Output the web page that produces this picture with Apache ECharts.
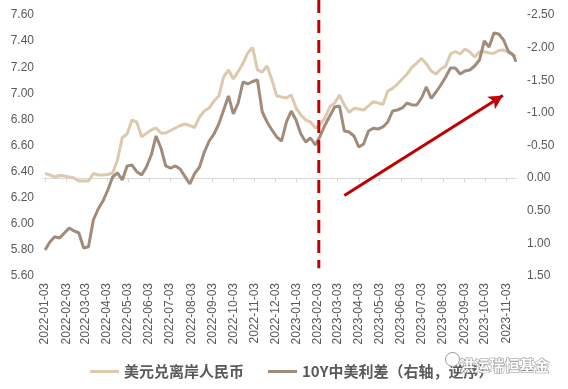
<!DOCTYPE html>
<html>
<head>
<meta charset="utf-8">
<script src="https://cdn.jsdelivr.net/npm/echarts@6/dist/echarts.min.js"></script>
<style>html,body{margin:0;padding:0;background:#fff;}#c{width:568px;height:389px;}</style>
</head>
<body>
<div id="c"></div>
<script>
// Weekly samples (Mondays)
const dates = [
'2022-01-03','2022-01-10','2022-01-17','2022-01-24','2022-01-31','2022-02-07','2022-02-14','2022-02-21','2022-02-28',
'2022-03-07','2022-03-14','2022-03-21','2022-03-28','2022-04-04','2022-04-11','2022-04-18','2022-04-25',
'2022-05-02','2022-05-09','2022-05-16','2022-05-23','2022-05-30','2022-06-06','2022-06-13','2022-06-20','2022-06-27',
'2022-07-04','2022-07-11','2022-07-18','2022-07-25','2022-08-01','2022-08-08','2022-08-15','2022-08-22','2022-08-29',
'2022-09-05','2022-09-12','2022-09-19','2022-09-26','2022-10-03','2022-10-10','2022-10-17','2022-10-24','2022-10-31',
'2022-11-07','2022-11-14','2022-11-21','2022-11-28','2022-12-05','2022-12-12','2022-12-19','2022-12-26',
'2023-01-02','2023-01-09','2023-01-16','2023-01-23','2023-01-30','2023-02-06','2023-02-13','2023-02-20','2023-02-27',
'2023-03-06','2023-03-13','2023-03-20','2023-03-27','2023-04-03','2023-04-10','2023-04-17','2023-04-24',
'2023-05-01','2023-05-08','2023-05-15','2023-05-22','2023-05-29','2023-06-05','2023-06-12','2023-06-19','2023-06-26',
'2023-07-03','2023-07-10','2023-07-17','2023-07-24','2023-07-31','2023-08-07','2023-08-14','2023-08-21','2023-08-28',
'2023-09-04','2023-09-11','2023-09-18','2023-09-25','2023-10-02','2023-10-09','2023-10-16','2023-10-23','2023-10-30',
'2023-11-06','2023-11-13','2023-11-17'
];
const cnh = [
6.387,6.374,6.359,6.370,6.366,6.359,6.351,6.328,6.328,
6.328,6.385,6.374,6.374,6.378,6.389,6.489,6.661,
6.688,6.795,6.780,6.667,6.693,6.719,6.734,6.696,6.696,
6.715,6.734,6.753,6.765,6.753,6.738,6.818,6.864,6.887,
6.941,6.979,7.125,7.179,7.110,7.166,7.230,7.309,7.351,
7.179,7.163,7.209,7.102,6.979,6.972,6.964,6.987,
6.887,6.834,6.795,6.780,6.734,6.761,6.811,6.897,6.926,
6.987,6.910,6.853,6.885,6.880,6.872,6.903,6.936,
6.926,6.914,7.018,7.038,7.071,7.110,7.148,7.198,7.232,
7.267,7.225,7.171,7.148,7.186,7.209,7.301,7.320,7.301,
7.339,7.316,7.278,7.316,7.319,7.309,7.307,7.328,7.332,
7.313,7.293,7.278
];
const spread = [
1.102,0.979,0.898,0.918,0.841,0.764,0.810,0.841,1.071,
1.051,0.642,0.473,0.351,0.182,-0.017,-0.079,0.029,
-0.186,-0.201,-0.098,-0.048,-0.171,-0.354,-0.646,-0.462,-0.186,
-0.155,-0.186,-0.140,-0.022,0.090,-0.074,-0.171,-0.400,-0.569,
-0.676,-0.830,-1.044,-1.259,-0.983,-1.151,-1.473,-1.443,-1.481,
-1.504,-1.013,-0.860,-0.738,-0.630,-0.569,-0.860,-1.029,
-0.891,-0.676,-0.554,-0.615,-0.508,-0.646,-0.814,-0.952,-1.090,
-1.105,-0.722,-0.707,-0.646,-0.477,-0.523,-0.722,-0.764,
-0.753,-0.784,-0.860,-1.029,-1.044,-1.075,-1.151,-1.121,-1.121,
-1.228,-1.397,-1.223,-1.320,-1.427,-1.550,-1.688,-1.688,-1.596,
-1.642,-1.657,-1.718,-1.810,-2.102,-2.010,-2.224,-2.209,-2.117,
-1.941,-1.887,-1.784
];
const tickDates = [
'2022-01-03','2022-02-03','2022-03-03','2022-04-03','2022-05-03','2022-06-03','2022-07-03','2022-08-03','2022-09-03',
'2022-10-03','2022-11-03','2022-12-03','2023-01-03','2023-02-03','2023-03-03','2023-04-03','2023-05-03','2023-06-03',
'2023-07-03','2023-08-03','2023-09-03','2023-10-03','2023-11-03'
];
const seriesNames = ['美元兑离岸人民币','10Y中美利差（右轴，逆序）'];
// annotation anchors (data coordinates)
const dividerDate = '2023-02-04';
const dividerRange = [7.715, 5.66];   // left-axis values for the dashed line ends
const arrowFrom = ['2023-03-13', 0.265];
const arrowTo = ['2023-10-29', -1.265];

function ts(s){ return new Date(s + 'T00:00:00').getTime(); }
function pad(n){ return (n < 10 ? '0' : '') + n; }
function fmtDate(v){ const d = new Date(v); return d.getFullYear() + '-' + pad(d.getMonth()+1) + '-' + pad(d.getDate()); }

const tickVals = tickDates.map(ts);
const cnhData = dates.map((d,i)=>[ts(d), cnh[i]]);
const spreadData = dates.map((d,i)=>[ts(d), spread[i]]);

const RED = '#C00000';
const labelColor = '#595959';
const chart = echarts.init(document.getElementById('c'), null, {renderer:'canvas'});
chart.setOption({
  animation:false,
  backgroundColor:'#fff',
  textStyle:{fontFamily:'Liberation Sans, Arial, sans-serif'},
  grid:{left:43, right:52, top:15, bottom:113, containLabel:false},
  legend:{
    data:seriesNames,
    left:85, top:359,
    icon:'rect', itemWidth:29, itemHeight:3, itemGap:24,
    textStyle:{fontSize:15, fontWeight:'bold', color:labelColor, fontFamily:'Noto Sans CJK SC, sans-serif'}
  },
  xAxis:{
    type:'value',
    min:ts('2021-12-31'), max:ts('2023-11-17'),
    axisLine:{show:true, lineStyle:{color:'#D9D9D9', width:1}},
    axisTick:{show:true, customValues:tickVals, length:4, lineStyle:{color:'#D9D9D9'}},
    axisLabel:{customValues:tickVals, rotate:90, fontSize:12, color:labelColor, margin:7, formatter:(v)=>fmtDate(v), hideOverlap:false, showMinLabel:true, showMaxLabel:true},
    splitLine:{show:false}
  },
  yAxis:[
    {type:'value', min:5.6, max:7.6, interval:0.2,
     axisLine:{show:false}, axisTick:{show:false}, splitLine:{show:false},
     axisLabel:{fontSize:12, color:labelColor, margin:9, formatter:(v)=>v.toFixed(2)}},
    {type:'value', min:-2.5, max:1.5, interval:0.5, inverse:true, position:'right',
     axisLine:{show:false}, axisTick:{show:false}, splitLine:{show:false},
     axisLabel:{fontSize:12, color:labelColor, margin:11, formatter:(v)=>v.toFixed(2)}}
  ],
  series:[
    {name:seriesNames[0], type:'line', data:cnhData, yAxisIndex:0, symbol:'none', showSymbol:false,
     lineStyle:{color:'#DDC9AB', width:3}, itemStyle:{color:'#DDC9AB'}},
    {name:seriesNames[1], type:'line', data:spreadData, yAxisIndex:1, symbol:'none', showSymbol:false,
     lineStyle:{color:'#A18B7B', width:3}, itemStyle:{color:'#A18B7B'},
     markLine:{silent:true, animation:false, symbol:['none','arrow'], symbolSize:[11,14], label:{show:false},
       lineStyle:{color:RED, width:3, type:'solid'},
       data:[[{coord:[ts(arrowFrom[0]), arrowFrom[1]]},{coord:[ts(arrowTo[0]), arrowTo[1]]}]]}
    }
  ]
});

const dx = chart.convertToPixel({xAxisIndex:0}, ts(dividerDate));
const dy1 = chart.convertToPixel({yAxisIndex:0}, dividerRange[0]);
const dy2 = chart.convertToPixel({yAxisIndex:0}, dividerRange[1]);
chart.setOption({
  graphic:[
    {type:'line', z:100, shape:{x1:dx, y1:dy1, x2:dx, y2:dy2}, style:{stroke:RED, lineWidth:3, lineDash:[13,7]}},
    {type:'text', right:18, top:357, z:100, style:{text:'洪运瑞恒基金', font:'bold 15px "Noto Sans CJK SC"', fill:'rgba(255,255,255,0.95)', stroke:'#8c8c8c', lineWidth:1}},
    {type:'circle', left:445, top:352, z:100, shape:{r:7}, style:{fill:'rgba(255,255,255,0.9)', stroke:'#9a9a9a', lineWidth:1}}
  ]
});
</script>
</body>
</html>
